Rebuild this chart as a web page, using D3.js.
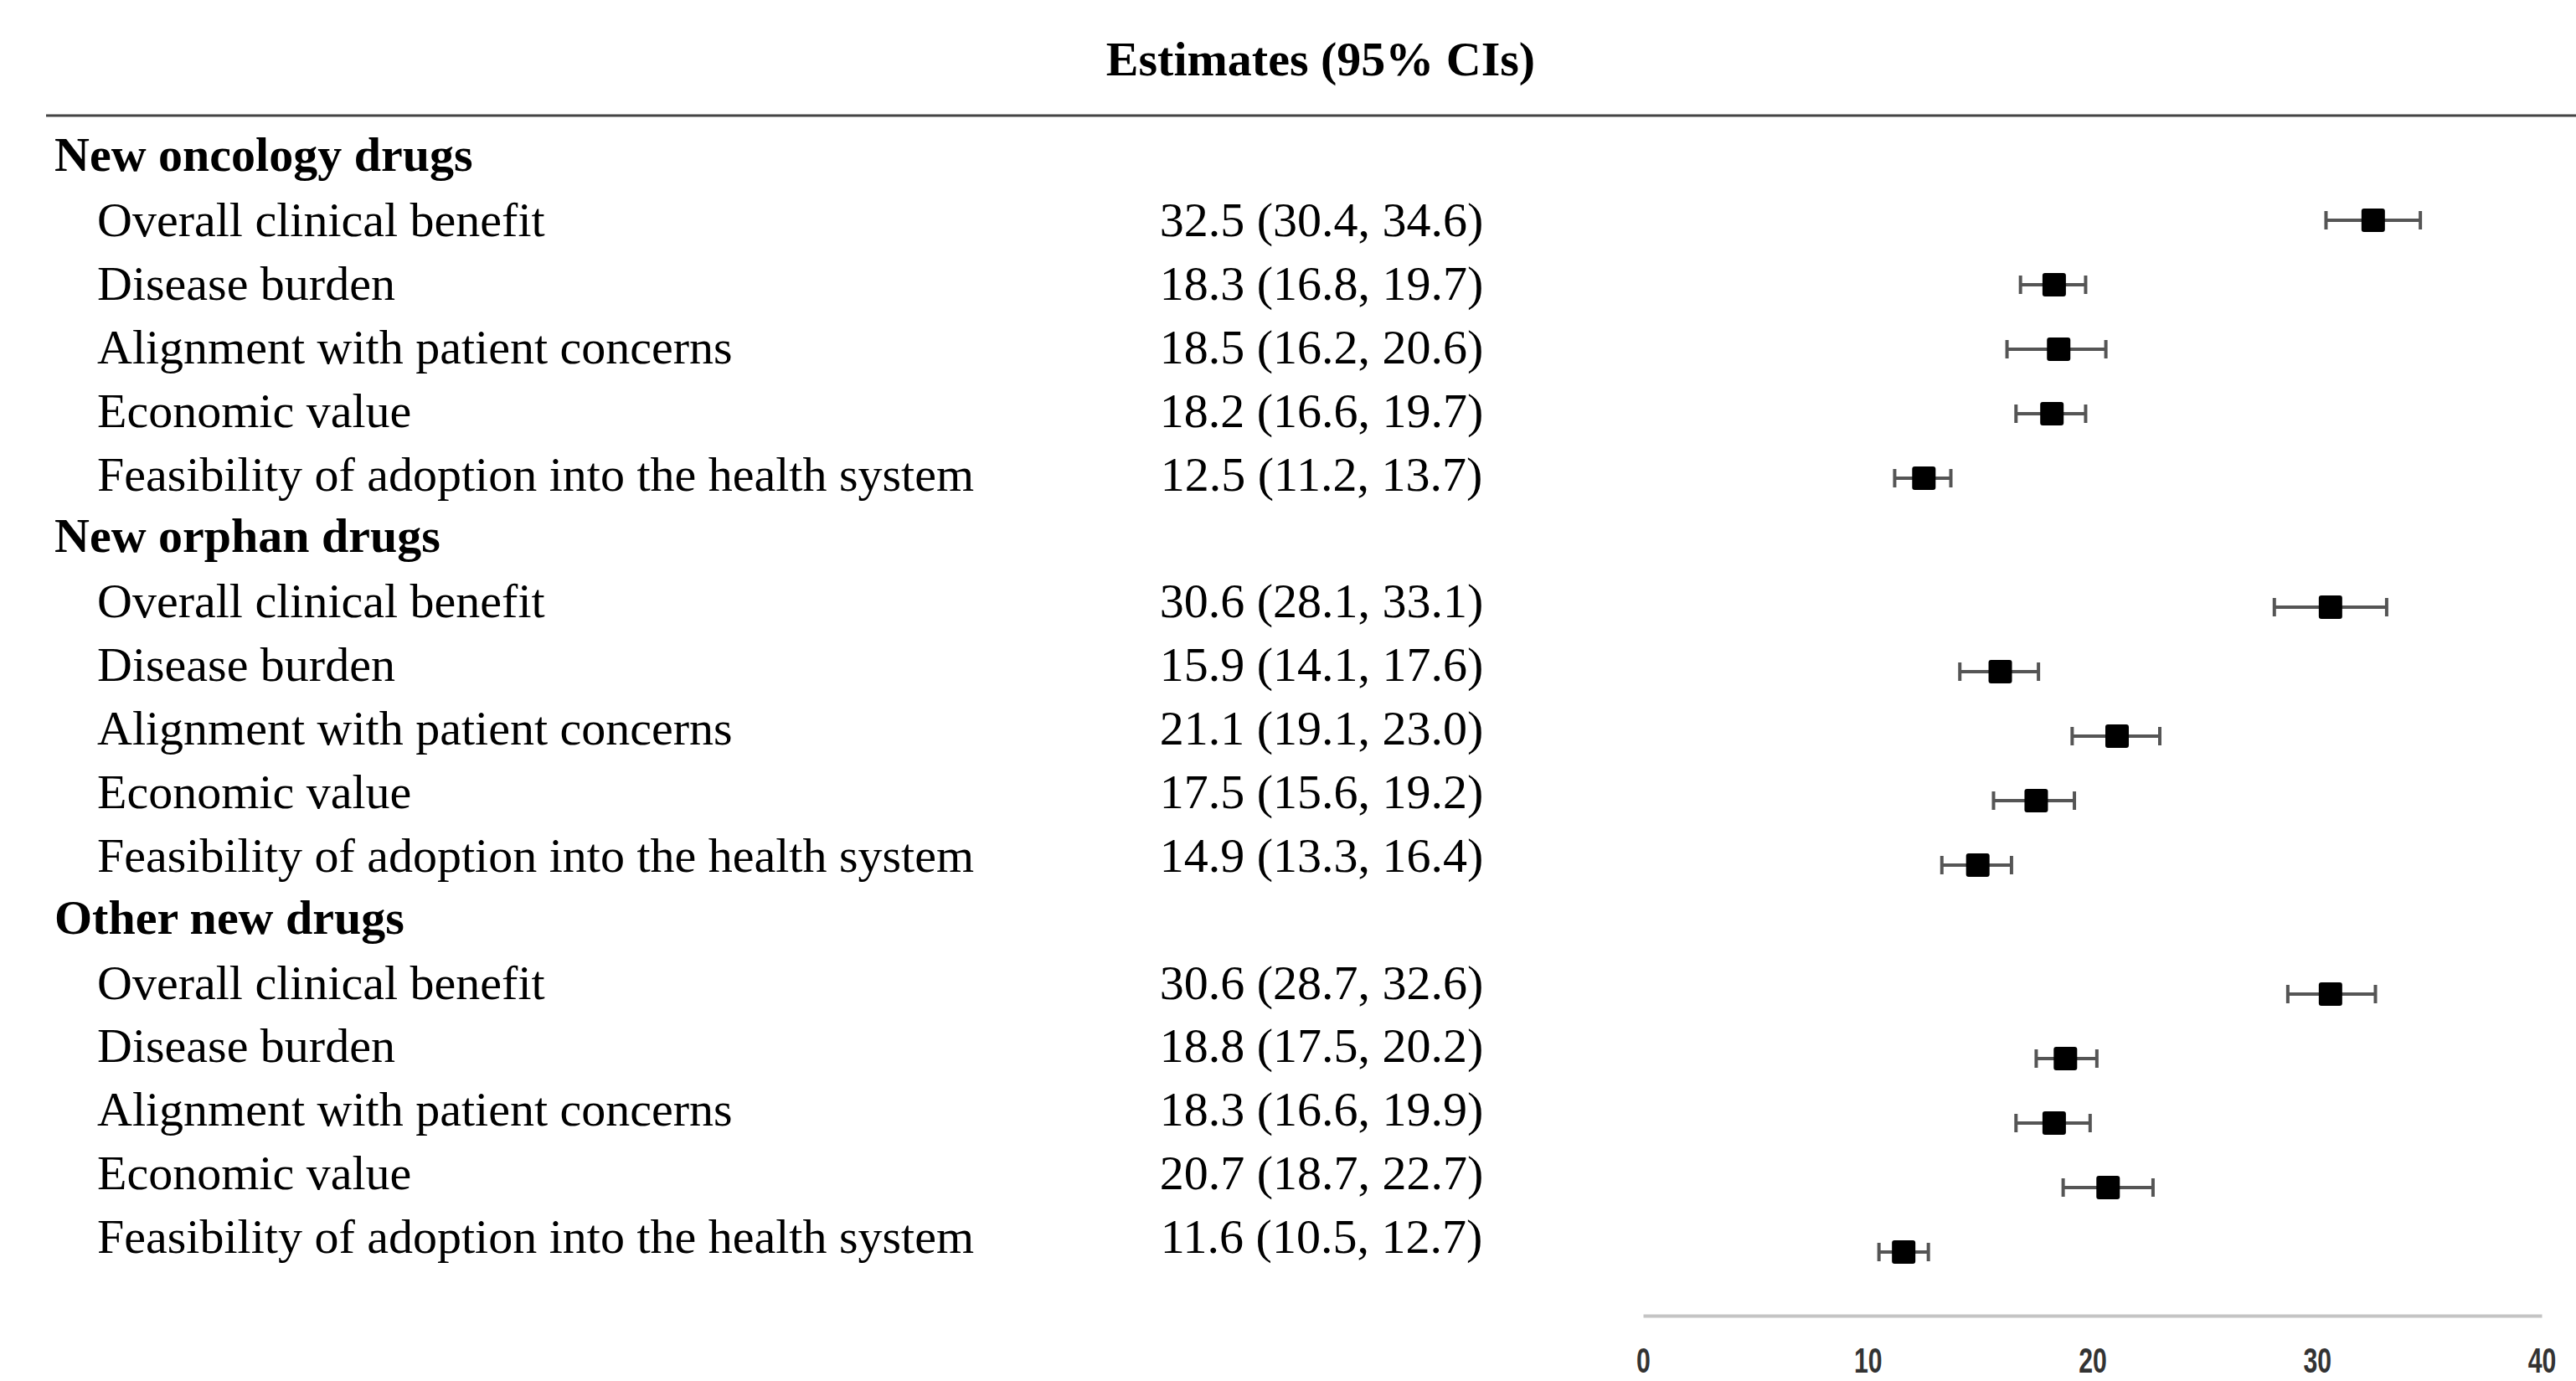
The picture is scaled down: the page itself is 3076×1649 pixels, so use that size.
<!DOCTYPE html>
<html>
<head>
<meta charset="utf-8">
<script src="https://cdn.jsdelivr.net/npm/d3@7"></script>
<style>
  html, body { margin: 0; padding: 0; background: #fff; }
  svg { display: block; }
</style>
</head>
<body>
<div id="chart"></div>
<script>
// groups and the items inside each group
var groups = ["New oncology drugs", "New orphan drugs", "Other new drugs"];
var items = [
  "Overall clinical benefit",
  "Disease burden",
  "Alignment with patient concerns",
  "Economic value",
  "Feasibility of adoption into the health system"
];

// estimates with 95% CIs, one array per group
var estOncology = [32.5, 18.3, 18.5, 18.2, 12.5];
var lowOncology = [30.4, 16.8, 16.2, 16.6, 11.2];
var highOncology = [34.6, 19.7, 20.6, 19.7, 13.7];

var estOrphan = [30.6, 15.9, 21.1, 17.5, 14.9];
var lowOrphan = [28.1, 14.1, 19.1, 15.6, 13.3];
var highOrphan = [33.1, 17.6, 23.0, 19.2, 16.4];

var estOther = [30.6, 18.8, 18.3, 20.7, 11.6];
var lowOther = [28.7, 17.5, 16.6, 18.7, 10.5];
var highOther = [32.6, 20.2, 19.9, 22.7, 12.7];

var xTicks = [0, 10, 20, 30, 40];

var W = 3076, H = 1649;
var serif = "'Liberation Serif', 'Times New Roman', serif";
var fmt = d3.format(".1f");

// build the rows table
var est = [estOncology, estOrphan, estOther];
var low = [lowOncology, lowOrphan, lowOther];
var high = [highOncology, highOrphan, highOther];
var rows = [];
groups.forEach(function(g, gi) {
  rows.push({type: "group", label: g});
  items.forEach(function(it, ii) {
    rows.push({type: "item", label: it, est: est[gi][ii], low: low[gi][ii], high: high[gi][ii]});
  });
});
rows.forEach(function(r, i) { r.i = i; });

var svg = d3.select("#chart").append("svg")
  .attr("width", W).attr("height", H);

// text rows
var yText = d3.scaleLinear().domain([1, 17]).range([263, 1477]);
// forest panel rows (slightly different spacing)
var yMark = d3.scaleLinear().domain([1, 17]).range([263, 1495]);
var x = d3.scaleLinear().domain([0, 40]).range([1962, 3035]);

// title
svg.append("text")
  .attr("x", 1577).attr("y", 90)
  .attr("text-anchor", "middle")
  .style("font-family", serif).style("font-size", "58px").style("font-weight", "bold")
  .text("Estimates (95% CIs)");

svg.append("line")
  .attr("x1", 55).attr("x2", W).attr("y1", 138).attr("y2", 138)
  .attr("stroke", "#444").attr("stroke-width", 3);

// labels
svg.selectAll("text.lab").data(rows).enter().append("text")
  .attr("class", "lab")
  .attr("x", function(d) { return d.type === "group" ? 65 : 116; })
  .attr("y", function(d) { return yText(d.i) + (d.type === "group" ? 17 : 19); })
  .style("font-family", serif).style("font-size", "58px")
  .style("font-weight", function(d) { return d.type === "group" ? "bold" : "normal"; })
  .text(function(d) { return d.label; });

var itemRows = rows.filter(function(d) { return d.type === "item"; });

svg.selectAll("text.est").data(itemRows).enter().append("text")
  .attr("class", "est")
  .attr("x", 1578)
  .attr("y", function(d) { return yText(d.i) + 19; })
  .attr("text-anchor", "middle")
  .style("font-family", serif).style("font-size", "58px")
  .text(function(d) { return fmt(d.est) + " (" + fmt(d.low) + ", " + fmt(d.high) + ")"; });

// error bars
var bars = svg.append("g").selectAll("g").data(itemRows).enter().append("g");
bars.append("line")
  .attr("x1", function(d) { return x(d.low); })
  .attr("x2", function(d) { return x(d.high); })
  .attr("y1", function(d) { return yMark(d.i); })
  .attr("y2", function(d) { return yMark(d.i); })
  .attr("stroke", "#555").attr("stroke-width", 4);
["low", "high"].forEach(function(k) {
  bars.append("line")
    .attr("x1", function(d) { return x(d[k]); })
    .attr("x2", function(d) { return x(d[k]); })
    .attr("y1", function(d) { return yMark(d.i) - 11; })
    .attr("y2", function(d) { return yMark(d.i) + 11; })
    .attr("stroke", "#555").attr("stroke-width", 4);
});
bars.append("rect")
  .attr("x", function(d) { return x(d.est) - 14; })
  .attr("y", function(d) { return yMark(d.i) - 14; })
  .attr("width", 28).attr("height", 28)
  .attr("rx", 3)
  .attr("fill", "#000");

// axis
var axis = svg.append("g")
  .attr("transform", "translate(0,1571)")
  .call(d3.axisBottom(x).tickValues(xTicks).tickSize(0).tickPadding(0));
axis.select(".domain").attr("stroke", "#c4c4c4").attr("stroke-width", 4);
axis.selectAll(".tick text")
  .attr("dy", null).attr("y", 68)
  .attr("transform", "scale(0.72,1)")
  .style("font-family", "'Liberation Sans', Arial, sans-serif")
  .style("font-size", "42px").style("font-weight", "bold").attr("fill", "#333");
</script>
</body>
</html>
